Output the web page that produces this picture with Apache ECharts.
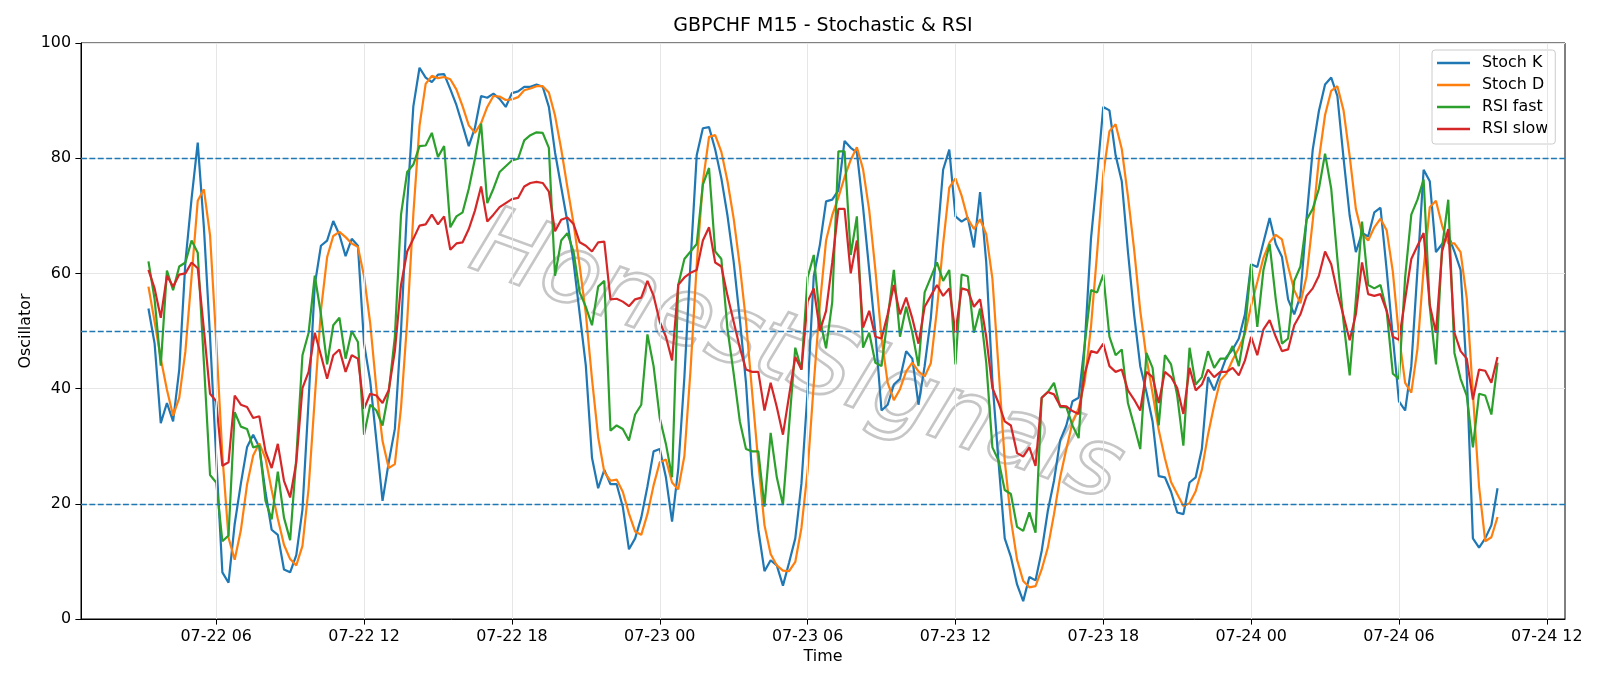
<!DOCTYPE html>
<html>
<head>
<meta charset="utf-8">
<title>GBPCHF M15 - Stochastic & RSI</title>
<script src="https://cdn.jsdelivr.net/npm/echarts@6/dist/echarts.min.js"></script>
<style>
  html, body { margin: 0; padding: 0; background: #fff; }
  #chart { width: 1600px; height: 686px; }
</style>
</head>
<body>
<div id="chart"></div>
<script>
// x = hours since 07-22 00:00, one bar every 15 minutes
var startHour = 3.25;   // 07-22 03:15
var stepHours = 0.25;

var stochK = [
  53.9, 47.8, 34.0, 37.5, 34.3, 43.3, 62.0, 73.0, 82.7, 68.0,
  49.0, 28.0, 8.1, 6.3, 16.5, 23.5, 29.8, 32.0, 29.8, 22.0,
  15.5, 14.6, 8.6, 8.1, 11.1, 19.0, 38.0, 58.0, 64.8, 65.7,
  69.1, 66.7, 63.0, 66.0, 64.8, 47.8, 41.3, 31.0, 20.5, 27.2,
  33.0, 50.0, 72.0, 89.0, 95.7, 94.0, 93.2, 94.5, 94.6, 92.0,
  89.2, 85.7, 82.1, 85.3, 90.8, 90.5, 91.2, 90.3, 88.9, 91.3,
  91.6, 92.4, 92.4, 92.8, 92.4, 88.9, 81.0, 75.0, 69.0, 62.0,
  53.0, 44.0, 28.0, 22.7, 25.9, 23.4, 23.4, 19.5, 12.1, 14.0,
  17.6, 23.0, 29.1, 29.5, 24.6, 16.9, 26.0, 42.0, 62.0, 80.5,
  85.2, 85.4, 81.5, 76.5, 70.0, 62.0, 52.0, 41.0, 25.0, 15.5,
  8.3, 10.2, 9.3, 5.8, 9.8, 14.0, 23.5, 39.5, 59.5, 65.0,
  72.5, 72.8, 74.4, 83.0, 81.8, 81.0, 71.5, 60.6, 49.7, 36.2,
  37.2, 40.7, 41.7, 46.5, 45.2, 37.2, 43.9, 52.2, 65.1, 78.0,
  81.5, 69.9, 69.0, 69.7, 64.5, 74.1, 61.9, 41.3, 27.2, 14.0,
  10.8, 6.0, 3.1, 7.3, 6.7, 11.8, 18.8, 24.0, 31.0, 33.6,
  37.8, 38.4, 47.8, 66.0, 77.0, 88.9, 88.3, 80.5, 76.0, 63.8,
  52.9, 43.9, 39.4, 34.3, 24.8, 24.6, 22.1, 18.5, 18.2, 23.7,
  24.6, 29.5, 42.0, 39.7, 42.6, 45.5, 46.8, 48.7, 52.9, 61.6,
  61.1, 65.4, 69.6, 65.1, 62.9, 55.5, 52.9, 56.1, 69.6, 81.5,
  88.2, 92.8, 94.0, 90.8, 80.0, 70.0, 63.7, 67.0, 66.4, 70.6,
  71.4, 60.6, 49.0, 37.8, 36.2, 43.9, 60.6, 78.0, 76.0, 63.7,
  65.1, 66.7, 63.8, 60.6, 42.6, 14.0, 12.4, 14.0, 16.3, 22.7
];

var stochD = [
  57.7, 51.6, 45.2, 39.8, 35.3, 38.4, 46.5, 59.4, 72.6, 74.6,
  66.6, 48.3, 28.4, 14.1, 10.3, 15.4, 23.3, 28.4, 30.5, 27.9,
  22.4, 17.4, 12.9, 10.4, 9.3, 12.7, 22.7, 38.3, 53.6, 62.8,
  66.5, 67.2, 66.3, 65.2, 64.6, 59.5, 51.3, 40.0, 30.9, 26.2,
  26.9, 36.7, 51.7, 70.3, 85.6, 92.9, 94.3, 93.9, 94.1, 93.7,
  91.9, 89.0, 85.7, 84.4, 86.1, 88.9, 90.8, 90.7, 90.1, 90.2,
  90.6, 91.8, 92.1, 92.5, 92.5, 91.4, 87.4, 81.6, 75.0, 68.7,
  61.3, 53.0, 41.7, 31.6, 25.5, 24.0, 24.2, 22.1, 18.3, 15.2,
  14.6, 18.2, 23.2, 27.2, 27.7, 23.7, 22.5, 28.3, 43.3, 61.5,
  75.9, 83.7, 84.0, 81.1, 76.0, 69.5, 61.3, 51.7, 39.3, 27.2,
  16.3, 11.3, 9.3, 8.4, 8.3, 9.9, 15.8, 25.7, 40.8, 54.7,
  65.7, 70.1, 73.2, 76.7, 79.7, 81.9, 78.1, 71.0, 60.6, 48.8,
  41.0, 38.0, 39.9, 43.0, 44.5, 43.0, 42.1, 44.4, 53.7, 65.1,
  74.9, 76.5, 73.5, 69.5, 67.7, 69.4, 66.8, 59.1, 43.5, 27.5,
  17.3, 10.3, 6.6, 5.5, 5.7, 8.6, 12.4, 18.2, 24.6, 29.5,
  34.1, 36.6, 41.3, 50.7, 63.6, 77.3, 84.7, 85.9, 81.6, 73.4,
  64.2, 53.5, 45.4, 39.2, 32.8, 27.9, 23.8, 21.7, 19.6, 20.1,
  22.2, 25.9, 32.0, 37.1, 41.4, 42.6, 45.0, 47.0, 49.5, 54.4,
  58.5, 62.7, 65.4, 66.7, 65.9, 61.2, 57.1, 54.8, 59.5, 69.1,
  79.8, 87.5, 91.7, 92.5, 88.3, 80.3, 71.2, 66.9, 65.7, 68.0,
  69.5, 67.5, 60.3, 49.1, 41.0, 39.3, 46.9, 60.8, 71.5, 72.6,
  68.3, 65.2, 65.2, 63.7, 55.7, 39.1, 23.0, 13.5, 14.2, 17.7
];

var rsiFast = [
  62.1, 55.5, 44.0, 60.5, 57.1, 61.2, 61.9, 65.7, 63.6, 44.5,
  25.0, 23.7, 13.5, 14.5, 35.9, 33.4, 33.0, 29.8, 30.1, 20.5,
  17.3, 25.6, 17.6, 13.7, 28.0, 45.8, 49.7, 59.6, 52.9, 44.2,
  51.0, 52.3, 45.2, 50.0, 48.1, 32.0, 37.2, 36.2, 33.6, 39.4,
  49.0, 70.2, 77.6, 78.9, 82.1, 82.2, 84.4, 80.2, 82.1, 68.0,
  69.9, 70.6, 74.7, 79.9, 86.0, 72.2, 74.7, 77.6, 78.6, 79.6,
  79.9, 83.1, 84.0, 84.5, 84.4, 81.8, 59.6, 65.7, 67.0, 63.8,
  56.7, 54.2, 51.0, 57.7, 58.7, 32.7, 33.6, 33.0, 31.0, 35.5,
  37.2, 49.4, 43.9, 34.9, 30.4, 24.6, 58.0, 62.5, 63.8, 65.1,
  75.4, 78.3, 63.8, 62.5, 50.3, 42.6, 34.3, 29.5, 29.1, 29.1,
  19.5, 32.3, 24.6, 19.8, 33.6, 47.1, 43.3, 59.3, 63.2, 52.0,
  47.0, 55.0, 81.2, 81.2, 63.2, 69.9, 47.1, 49.7, 44.5, 43.9,
  52.2, 60.6, 49.0, 54.2, 49.7, 43.9, 56.7, 59.3, 61.9, 58.7,
  60.6, 44.2, 59.8, 59.5, 49.7, 53.9, 44.5, 29.8, 27.5, 22.4,
  21.7, 16.0, 15.3, 18.5, 15.0, 38.4, 39.4, 41.0, 36.8, 36.8,
  33.6, 31.4, 47.8, 57.1, 56.7, 59.8, 49.0, 45.8, 46.8, 37.5,
  33.6, 29.5, 46.2, 43.6, 33.6, 45.8, 44.2, 38.8, 30.1, 47.1,
  40.7, 42.0, 46.5, 43.6, 45.2, 45.2, 47.4, 43.9, 50.3, 61.6,
  50.7, 60.6, 65.1, 55.5, 47.8, 48.7, 58.7, 61.2, 69.3, 71.2,
  74.7, 80.8, 74.7, 62.5, 51.6, 42.3, 55.5, 69.0, 58.0, 57.4,
  58.0, 53.5, 42.6, 41.7, 59.3, 70.2, 72.8, 76.3, 54.2, 44.2,
  64.5, 72.8, 46.2, 41.7, 38.8, 29.8, 39.1, 38.8, 35.5, 44.5
];

var rsiSlow = [
  60.6, 57.4, 52.3, 59.6, 57.7, 59.8, 60.0, 61.9, 60.9, 50.3,
  39.1, 37.8, 26.6, 27.2, 38.8, 37.2, 36.8, 34.9, 35.2, 29.1,
  26.2, 30.4, 24.0, 21.1, 27.2, 40.1, 42.9, 49.7, 45.8, 41.7,
  45.8, 46.8, 42.9, 45.8, 45.2, 36.5, 39.1, 38.8, 37.5, 39.7,
  46.5, 58.0, 63.8, 66.0, 68.3, 68.5, 70.2, 68.5, 69.9, 64.1,
  65.2, 65.4, 67.7, 70.9, 75.1, 69.0, 70.2, 71.5, 72.2, 72.9,
  73.1, 75.1, 75.7, 75.9, 75.7, 74.2, 67.3, 69.3, 69.7, 68.6,
  65.4, 64.8, 63.8, 65.4, 65.5, 55.5, 55.6, 55.1, 54.3, 55.5,
  55.8, 58.7, 56.1, 51.6, 49.0, 44.9, 58.0, 59.3, 60.1, 60.6,
  65.7, 68.0, 61.9, 61.2, 56.1, 51.6, 47.1, 43.3, 42.9, 42.9,
  36.2, 41.0, 36.8, 32.0, 38.8, 45.5, 43.3, 55.1, 57.4, 50.0,
  53.5, 61.9, 71.2, 71.2, 60.0, 65.7, 50.6, 53.5, 49.0, 48.7,
  52.9, 58.0, 52.9, 55.8, 52.2, 47.8, 54.2, 56.1, 58.0, 56.1,
  57.4, 49.7, 57.4, 57.1, 54.2, 55.5, 49.0, 40.1, 37.5, 34.3,
  33.6, 28.8, 28.2, 29.8, 26.6, 38.4, 39.4, 39.0, 37.0, 36.9,
  36.1, 35.6, 42.6, 46.5, 46.2, 47.8, 43.9, 42.9, 43.3, 39.7,
  38.1, 36.2, 42.9, 42.0, 37.5, 42.9, 42.0, 40.1, 35.6, 43.6,
  39.7, 40.7, 43.3, 42.0, 42.9, 42.9, 43.6, 42.3, 44.9, 49.0,
  45.8, 50.3, 51.9, 49.0, 46.5, 46.8, 51.0, 52.9, 56.1, 57.4,
  59.6, 63.8, 61.6, 56.7, 52.6, 48.4, 52.9, 61.9, 56.4, 56.1,
  56.4, 53.5, 49.0, 48.5, 55.5, 62.5, 64.8, 67.0, 54.5, 49.7,
  63.8, 67.7, 49.7, 46.5, 45.2, 38.1, 43.3, 43.1, 41.0, 45.5
];

var xTickHours = [6, 12, 18, 24, 30, 36, 42, 48, 54, 60];
var levels = [20, 50, 80];

var FONT = 'DejaVu Sans';

function toPairs(arr) {
    return arr.map(function (v, i) { return [startHour + i * stepHours, v]; });
}

// 横轴标签 07-22 06 这种格式
function hourLabel(h) {
    var day = 22 + Math.floor(h / 24);
    var hh = h % 24;
    return '07-' + day + ' ' + (hh < 10 ? '0' : '') + hh;
}

// matplotlib 默认留 5% 边距
var lastHour = startHour + (stochK.length - 1) * stepHours;
var span = lastHour - startHour;
var xMin = startHour - span * 0.05;
var xMax = lastHour + span * 0.05;

function lineSeries(name, arr, color) {
    return {
        name: name,
        type: 'line',
        data: toPairs(arr),
        showSymbol: false,
        symbol: 'none',
        z: 3,
        lineStyle: { color: color, width: 2.2 },
        itemStyle: { color: color }
    };
}

var chart = echarts.init(document.getElementById('chart'), null, { renderer: 'canvas' });

var option = {
    animation: false,
    backgroundColor: '#fff',
    textStyle: { fontFamily: FONT },
    graphic: [
        {
            type: 'text', x: 823, y: 26, z: 10,
            style: {
                text: 'GBPCHF M15 - Stochastic & RSI',
                font: '19px "' + FONT + '"',
                fill: '#000',
                align: 'center', verticalAlign: 'middle',
                textAlign: 'center', textVerticalAlign: 'middle'
            }
        },
        {
            // 水印
            type: 'text', x: 796, y: 360, rotation: -0.35, z: 1, silent: true,
            style: {
                text: 'HonestSignals',
                font: 'italic 96px "' + FONT + '"',
                fill: 'rgba(0,0,0,0)',
                stroke: '#c6c6c6',
                lineWidth: 2.6,
                shadowColor: 'rgba(0,0,0,0.12)',
                shadowBlur: 2,
                shadowOffsetX: 2,
                shadowOffsetY: 2,
                align: 'center', verticalAlign: 'middle',
                textAlign: 'center', textVerticalAlign: 'middle'
            }
        }
    ],
    grid: {
        left: 81, right: 35, top: 43, bottom: 67,
        show: true, borderColor: '#000', borderWidth: 1, backgroundColor: 'transparent'
    },
    legend: {
        data: ['Stoch K', 'Stoch D', 'RSI fast', 'RSI slow'],
        orient: 'vertical',
        left: 1432, top: 50,
        padding: [5, 7, 7, 5],
        itemWidth: 33, itemHeight: 2.4, itemGap: 6,
        icon: 'rect',
        backgroundColor: 'rgba(255,255,255,0.8)',
        borderColor: '#cccccc', borderWidth: 1, borderRadius: 3,
        textStyle: { fontFamily: FONT, fontSize: 15.9, color: '#000', lineHeight: 16, padding: [0, 0, 0, 7] }
    },
    xAxis: {
        type: 'value',
        min: xMin, max: xMax,
        name: 'Time', nameLocation: 'middle', nameGap: 30,
        nameMoveOverlap: false,
        nameTextStyle: { fontFamily: FONT, fontSize: 15.9, color: '#000' },
        axisLine: { show: true, lineStyle: { color: '#000', width: 1 } },
        axisTick: { show: true, inside: false, length: 5.6, customValues: xTickHours, lineStyle: { color: '#000', width: 1 } },
        axisLabel: {
            customValues: xTickHours, margin: 10,
            fontFamily: FONT, fontSize: 15.9, color: '#000',
            formatter: function (v) { return hourLabel(v); }
        },
        splitLine: { show: false }
    },
    yAxis: {
        type: 'value',
        min: 0, max: 100, interval: 20,
        name: 'Oscillator', nameLocation: 'middle', nameGap: 47,
        nameMoveOverlap: false,
        nameTextStyle: { fontFamily: FONT, fontSize: 15.9, color: '#000' },
        axisLine: { show: true, lineStyle: { color: '#000', width: 1 } },
        axisTick: { show: true, inside: false, length: 5.6, lineStyle: { color: '#000', width: 1 } },
        axisLabel: { margin: 10, fontFamily: FONT, fontSize: 15.9, color: '#000' },
        splitLine: { show: true, lineStyle: { color: '#e6e6e6', width: 1 } }
    },
    series: [
        {
            // 竖向网格线
            name: 'vgrid', type: 'line', data: [], z: 1, silent: true,
            markLine: {
                silent: true, symbol: 'none', animation: false,
                label: { show: false },
                lineStyle: { color: '#e6e6e6', width: 1, type: 'solid' },
                data: xTickHours.map(function (h) { return { xAxis: h }; })
            }
        },
        lineSeries('Stoch K', stochK, '#1f77b4'),
        lineSeries('Stoch D', stochD, '#ff7f0e'),
        lineSeries('RSI fast', rsiFast, '#2ca02c'),
        lineSeries('RSI slow', rsiSlow, '#d62728'),
        {
            // 20/50/80 参考线
            name: 'levels', type: 'line', data: [], z: 4, silent: true,
            markLine: {
                silent: true, symbol: 'none', animation: false,
                label: { show: false },
                lineStyle: { color: '#1f77b4', width: 1.3, type: [5.9, 2.5] },
                data: levels.map(function (v) { return { yAxis: v }; })
            }
        }
    ]
};

chart.setOption(option);
</script>
</body>
</html>
